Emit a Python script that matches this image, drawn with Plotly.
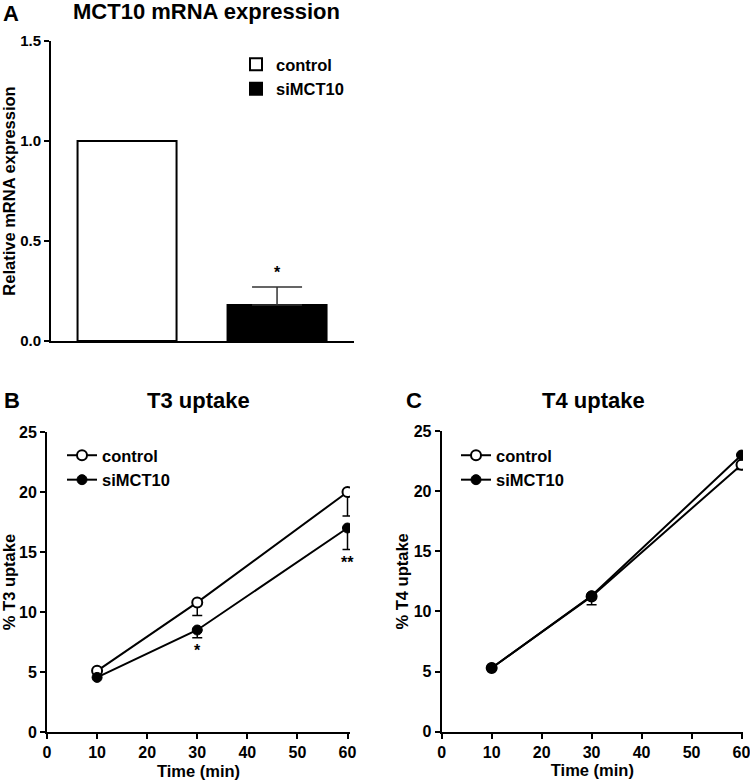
import plotly.graph_objects as go

# ---- data ----
groups_a = ["control", "siMCT10"]
mrna_mean = [1.0, 0.18]
mrna_sem_up = [0.0, 0.09]
mrna_sig = ["", "*"]

time_min = [10, 30, 60]
t3_control = [5.1, 10.8, 20.0]
t3_control_sem = [0.0, 1.1, 2.0]
t3_si = [4.55, 8.5, 17.0]
t3_si_sem = [0.0, 0.65, 1.8]
t3_sig = ["", "*", "**"]

t4_control = [5.3, 11.25, 22.2]
t4_control_sem = [0.0, 0.7, 0.4]
t4_si = [5.3, 11.3, 23.0]
t4_si_sem = [0.0, 0.0, 0.0]

W, H = 750, 780
FONT = "Liberation Sans"
BLACK = "#000000"

def px_x(p):
    return p / W

def px_y(p):
    return 1 - p / H

fig = go.Figure()

# ---- Panel A: bars ----
fig.add_trace(go.Bar(
    x=[groups_a[0]], y=[mrna_mean[0]], width=0.66,
    marker=dict(color="white", line=dict(color=BLACK, width=2)),
    name="control", xaxis="x", yaxis="y", legend="legend",
))
fig.add_trace(go.Bar(
    x=[groups_a[1]], y=[mrna_mean[1]], width=0.66,
    marker=dict(color=BLACK, line=dict(color=BLACK, width=2)),
    error_y=dict(type="data", symmetric=False, array=[mrna_sem_up[1]], arrayminus=[0],
                 width=25, thickness=1.5, color="#333333"),
    name="siMCT10", xaxis="x", yaxis="y", legend="legend",
))

# ---- Panels B, C: lines ----
def line_traces(y_ctrl, e_ctrl, y_si, e_si, xa, ya, leg):
    fig.add_trace(go.Scatter(
        x=time_min, y=y_ctrl, mode="lines+markers", name="control",
        line=dict(color=BLACK, width=2),
        marker=dict(symbol="circle", size=10, color="white", line=dict(color=BLACK, width=2)),
        error_y=dict(type="data", symmetric=False, array=[0, 0, 0], arrayminus=e_ctrl,
                     width=5, thickness=1.5, color=BLACK),
        xaxis=xa, yaxis=ya, legend=leg,
    ))
    fig.add_trace(go.Scatter(
        x=time_min, y=y_si, mode="lines+markers", name="siMCT10",
        line=dict(color=BLACK, width=2),
        marker=dict(symbol="circle", size=10, color=BLACK, line=dict(color=BLACK, width=1)),
        error_y=dict(type="data", symmetric=False, array=[0, 0, 0], arrayminus=e_si,
                     width=5, thickness=1.5, color=BLACK),
        xaxis=xa, yaxis=ya, legend=leg,
    ))

line_traces(t3_control, t3_control_sem, t3_si, t3_si_sem, "x2", "y2", "legend2")
line_traces(t4_control, t4_control_sem, t4_si, t4_si_sem, "x3", "y3", "legend3")

axis_common = dict(
    showline=True, linecolor=BLACK, linewidth=2, ticks="outside", ticklen=5,
    tickwidth=2, tickcolor=BLACK, showgrid=False, zeroline=False, automargin=False,
    ticklabeloverflow="allow",
    tickfont=dict(family=FONT, size=16, color=BLACK, weight="bold"),
)
title_font = dict(family=FONT, size=16.5, color=BLACK, weight="bold")
legend_font = dict(family=FONT, size=16.5, color=BLACK, weight="bold")

fig.update_layout(
    width=W, height=H,
    margin=dict(l=0, r=0, t=0, b=0, autoexpand=False),
    plot_bgcolor="white", paper_bgcolor="white",
    barmode="overlay",
    xaxis=dict(domain=[px_x(51), px_x(354)], type="category", range=[-0.507, 1.513],
               showline=True, linecolor=BLACK, linewidth=2, ticks="", showticklabels=False,
               showgrid=False, zeroline=False, anchor="y", automargin=False),
    yaxis=dict(domain=[px_y(341), px_y(41)], range=[0, 1.5], tickvals=[0, 0.5, 1.0, 1.5],
               ticktext=["0.0", "0.5", "1.0", "1.5"], anchor="x",
               title=dict(text="Relative mRNA expression", font=title_font, standoff=8),
               **{**axis_common, "tickfont": dict(family=FONT, size=15, color=BLACK, weight="bold")}),
    xaxis2=dict(domain=[px_x(47), px_x(350)], range=[0, 60.5], tickvals=[0, 10, 20, 30, 40, 50, 60],
                anchor="y2", title=dict(text="Time (min)", font=title_font, standoff=5), **axis_common),
    yaxis2=dict(domain=[px_y(732), px_y(432)], range=[0, 25], tickvals=[0, 5, 10, 15, 20, 25],
                anchor="x2", title=dict(text="% T3 uptake", font=title_font, standoff=11), **axis_common),
    xaxis3=dict(domain=[px_x(441.7), px_x(743)], range=[0, 60.3], tickvals=[0, 10, 20, 30, 40, 50, 60],
                anchor="y3", title=dict(text="Time (min)", font=title_font, standoff=5), **axis_common),
    yaxis3=dict(domain=[px_y(731.7), px_y(431)], range=[0, 25], tickvals=[0, 5, 10, 15, 20, 25],
                anchor="x3", title=dict(text="% T4 uptake", font=title_font, standoff=1), **axis_common),
    legend=dict(x=px_x(236), y=px_y(47), xanchor="left", yanchor="top",
                font=legend_font, bgcolor="rgba(0,0,0,0)", tracegroupgap=0),
    legend2=dict(x=px_x(62), y=px_y(438), xanchor="left", yanchor="top",
                 font=legend_font, bgcolor="rgba(0,0,0,0)"),
    legend3=dict(x=px_x(456), y=px_y(438), xanchor="left", yanchor="top",
                 font=legend_font, bgcolor="rgba(0,0,0,0)"),
)

ann_font_title = dict(family=FONT, size=22, color=BLACK, weight="bold")
annotations = [
    dict(text="A", x=px_x(1), y=px_y(13), xanchor="left", yanchor="middle"),
    dict(text="MCT10 mRNA expression", x=px_x(206), y=px_y(12), xanchor="center", yanchor="middle"),
    dict(text="B", x=px_x(2), y=px_y(401), xanchor="left", yanchor="middle"),
    dict(text="T3 uptake", x=px_x(198), y=px_y(401), xanchor="center", yanchor="middle"),
    dict(text="C", x=px_x(404), y=px_y(401), xanchor="left", yanchor="middle"),
    dict(text="T4 uptake", x=px_x(593), y=px_y(401), xanchor="center", yanchor="middle"),
]
for a in annotations:
    fig.add_annotation(xref="paper", yref="paper", showarrow=False, font=ann_font_title, **a)

star_font = dict(family=FONT, size=16, color=BLACK, weight="bold")
for g, m, e, s in zip(groups_a, mrna_mean, mrna_sem_up, mrna_sig):
    if s:
        fig.add_annotation(x=g, y=m + e, xref="x", yref="y", text=s, showarrow=False,
                           yanchor="bottom", yshift=4, font=star_font)
for t, m, e, s in zip(time_min, t3_si, t3_si_sem, t3_sig):
    if s:
        fig.add_annotation(x=t, y=m - e, xref="x2", yref="y2", text=s, showarrow=False,
                           yanchor="top", yshift=-2, font=star_font)

fig.write_html("out.html", config={"displayModeBar": False},
               post_script="document.body.style.margin='0px';")
